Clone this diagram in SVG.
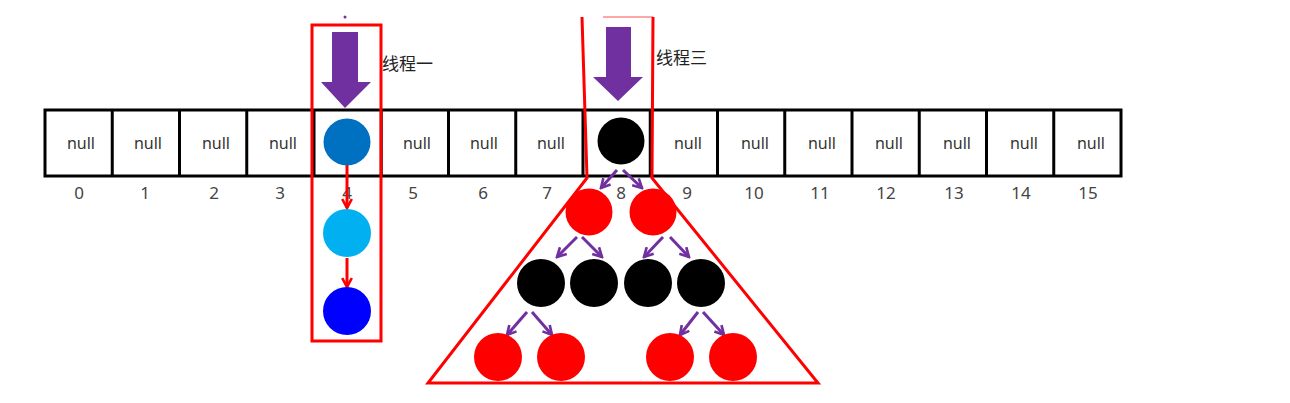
<svg xmlns="http://www.w3.org/2000/svg" width="1290" height="403" viewBox="0 0 1290 403">
<style>
.cell{fill:#fff;stroke:#000;stroke-width:3}
.nul{font-family:"Noto Sans","Open Sans",sans-serif;font-size:16px;fill:#333;text-anchor:middle}
.idx{font-family:"Noto Sans","Open Sans",sans-serif;font-size:17px;fill:#444;text-anchor:middle}
.cjk{font-family:"Noto Sans CJK SC",sans-serif;font-size:17px;fill:#222}
.frame{fill:none;stroke:#ff0000;stroke-width:3;stroke-linejoin:miter}
.pa{stroke:#7030A0;stroke-width:3;fill:none;marker-end:url(#ph)}
.ra{stroke:#ff0000;stroke-width:3;fill:none;marker-end:url(#rh)}
.big{fill:#7030A0}
</style>
<defs>
<marker id="ph" viewBox="0 0 10 10" refX="8.5" refY="5" markerWidth="12" markerHeight="12" markerUnits="userSpaceOnUse" orient="auto"><path d="M1,1 L8.5,5 L1,9" fill="none" stroke="#7030A0" stroke-width="2.2"/></marker>
<marker id="rh" viewBox="0 0 10 10" refX="8.5" refY="5" markerWidth="12" markerHeight="12" markerUnits="userSpaceOnUse" orient="auto"><path d="M1,1 L8.5,5 L1,9" fill="none" stroke="#ff0000" stroke-width="2.2"/></marker>
</defs>
<rect width="1290" height="403" fill="#fff"/>
<g id="array">
<rect class="cell" x="45" y="110" width="1076" height="66"/>
<path d="M112.25,110V176M179.5,110V176M246.75,110V176M314,110V176M381.25,110V176M448.5,110V176M515.75,110V176M583,110V176M650.25,110V176M717.5,110V176M784.75,110V176M852,110V176M919.25,110V176M986.5,110V176M1053.75,110V176" stroke="#000" stroke-width="3"/>
<text class="nul" x="81" y="149">null</text>
<text class="nul" x="148" y="149">null</text>
<text class="nul" x="216" y="149">null</text>
<text class="nul" x="283" y="149">null</text>
<text class="nul" x="417" y="149">null</text>
<text class="nul" x="484" y="149">null</text>
<text class="nul" x="551" y="149">null</text>
<text class="nul" x="688" y="149">null</text>
<text class="nul" x="755" y="149">null</text>
<text class="nul" x="822" y="149">null</text>
<text class="nul" x="889" y="149">null</text>
<text class="nul" x="957" y="149">null</text>
<text class="nul" x="1024" y="149">null</text>
<text class="nul" x="1091" y="149">null</text>
<text class="idx" x="79" y="199">0</text>
<text class="idx" x="145" y="199">1</text>
<text class="idx" x="214" y="199">2</text>
<text class="idx" x="280" y="199">3</text>
<text class="idx" x="347" y="199">4</text>
<text class="idx" x="413" y="199">5</text>
<text class="idx" x="483" y="199">6</text>
<text class="idx" x="547" y="199">7</text>
<text class="idx" x="621" y="199">8</text>
<text class="idx" x="687" y="199">9</text>
<text class="idx" x="754" y="199">10</text>
<text class="idx" x="820" y="199">11</text>
<text class="idx" x="886" y="199">12</text>
<text class="idx" x="954" y="199">13</text>
<text class="idx" x="1021" y="199">14</text>
<text class="idx" x="1088" y="199">15</text>
</g>
<g id="thread1">
<circle cx="345" cy="17" r="1.5" fill="#7030A0"/>
<rect class="frame" x="312" y="25" width="69" height="316"/>
<path class="big" d="M332,32H358V82H371L345,108L321,82H332Z"/>
<text class="cjk" x="382" y="70">线程一</text>
</g>
<g id="thread3">
<path class="frame" d="M582,17L587,178L428,383L818,383L652,178L653,17"/>
<path d="M603,17H653" stroke="#ff0000" stroke-width="2" stroke-opacity="0.35"/>
<path class="big" d="M606,27H631V77H643L618,101L593,77H606Z"/>
<text class="cjk" x="656" y="64">线程三</text>
</g>
<g id="connectors">
<path class="ra" d="M347,165V208"/>
<path class="ra" d="M347,258V287"/>
<path class="pa" d="M617,170L601,188"/>
<path class="pa" d="M623,170L642,188"/>
<path class="pa" d="M577,237L557,257"/>
<path class="pa" d="M582,237L602,257"/>
<path class="pa" d="M663,237L644,257"/>
<path class="pa" d="M670,237L689,257"/>
<path class="pa" d="M527,312L507,335"/>
<path class="pa" d="M532,312L552,335"/>
<path class="pa" d="M698,312L680,335"/>
<path class="pa" d="M703,312L724,335"/>
</g>
<g id="node-bucket4"><circle cx="347" cy="142" r="23.5" fill="#0070C0"/></g>
<g id="node-chain1"><circle cx="347" cy="233" r="24" fill="#00B0F0"/></g>
<g id="node-chain2"><circle cx="347" cy="311" r="24" fill="#0000FF"/></g>
<g id="node-root"><circle cx="621" cy="141" r="23.5" fill="#000"/></g>
<g id="node-l1a"><circle cx="589" cy="212" r="23.5" fill="#ff0000"/></g>
<g id="node-l1b"><circle cx="653" cy="212" r="23.5" fill="#ff0000"/></g>
<g id="node-l2a"><circle cx="541" cy="283" r="24" fill="#000"/></g>
<g id="node-l2b"><circle cx="594" cy="283" r="24" fill="#000"/></g>
<g id="node-l2c"><circle cx="648" cy="283" r="24" fill="#000"/></g>
<g id="node-l2d"><circle cx="701" cy="283" r="24" fill="#000"/></g>
<g id="node-l3a"><circle cx="498" cy="357" r="24" fill="#ff0000"/></g>
<g id="node-l3b"><circle cx="561" cy="357" r="24" fill="#ff0000"/></g>
<g id="node-l3c"><circle cx="670" cy="357" r="24" fill="#ff0000"/></g>
<g id="node-l3d"><circle cx="733" cy="357" r="24" fill="#ff0000"/></g>
</svg>
